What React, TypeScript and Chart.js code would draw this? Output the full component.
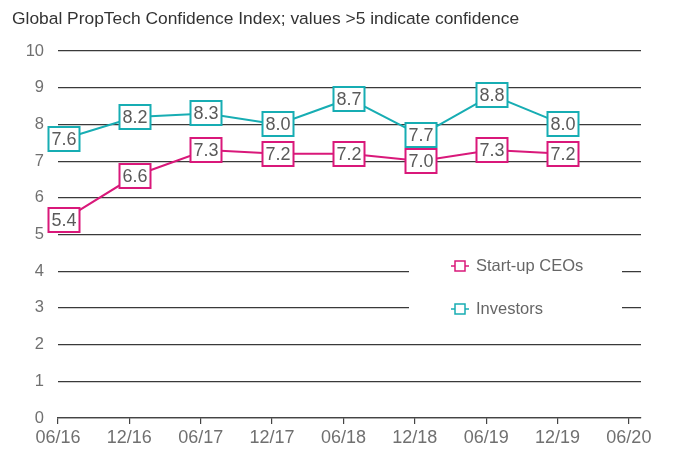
import React, { useEffect, useRef } from "react";
import { Chart, registerables } from "chart.js";

Chart.register(...registerables);

const TITLE = "Global PropTech Confidence Index; values >5 indicate confidence";
const tickLabels = ["06/16", "12/16", "06/17", "12/17", "06/18", "12/18", "06/19", "12/19", "06/20"];
// survey points sit slightly after each half-year tick
const surveyPositions = [0.08, 1.08, 2.08, 3.08, 4.08, 5.08, 6.08, 7.08];
const ceoValues = [5.4, 6.6, 7.3, 7.2, 7.2, 7.0, 7.3, 7.2];
const investorValues = [7.6, 8.2, 8.3, 8.0, 8.7, 7.7, 8.8, 8.0];
const seriesNames = ["Start-up CEOs", "Investors"];

const PINK = "#d9187a";
const TEAL = "#17adb3";
const FONT = "'Liberation Sans', Arial, sans-serif";

export default function App() {
  const ref = useRef<HTMLCanvasElement>(null);

  useEffect(() => {
    const canvas = ref.current!;
    const ceoData = ceoValues.map((v, i) => ({ x: surveyPositions[i], y: v }));
    const invData = investorValues.map((v, i) => ({ x: surveyPositions[i], y: v }));

    const labelPlugin = {
      id: "boxLabels",
      afterDatasetsDraw(chart: any) {
        const ctx = chart.ctx;
        ctx.save();
        chart.data.datasets.forEach((ds: any, di: number) => {
          const meta = chart.getDatasetMeta(di);
          meta.data.forEach((pt: any, i: number) => {
            const w = 31, h = 24;
            const x = Math.round(pt.x), y = Math.round(pt.y);
            ctx.fillStyle = "#fff";
            ctx.fillRect(x - w / 2, y - h / 2, w, h);
            ctx.strokeStyle = ds.borderColor;
            ctx.lineWidth = 2;
            ctx.strokeRect(x - w / 2, y - h / 2, w, h);
            ctx.fillStyle = "#5a5a5a";
            ctx.font = `18px ${FONT}`;
            ctx.textAlign = "center";
            ctx.textBaseline = "middle";
            ctx.fillText(ds.data[i].y.toFixed(1), x, y + 1);
          });
        });
        ctx.restore();
      },
      afterDraw(chart: any) {
        const ctx = chart.ctx;
        ctx.save();
        // title
        ctx.fillStyle = "#333";
        ctx.font = `17.4px ${FONT}`;
        ctx.textAlign = "left";
        ctx.textBaseline = "alphabetic";
        ctx.fillText(TITLE, 12, 24);
        // legend
        ctx.fillStyle = "#fff";
        ctx.fillRect(409, 248, 213, 80);
        const items = [
          { name: seriesNames[0], color: PINK, y: 266 },
          { name: seriesNames[1], color: TEAL, y: 309 },
        ];
        items.forEach((it) => {
          ctx.strokeStyle = it.color;
          ctx.lineWidth = 1.5;
          ctx.beginPath();
          ctx.moveTo(451, it.y);
          ctx.lineTo(469, it.y);
          ctx.stroke();
          ctx.fillStyle = "#fff";
          ctx.fillRect(455, it.y - 5, 10, 10);
          ctx.strokeRect(455, it.y - 5, 10, 10);
          ctx.fillStyle = "#666";
          ctx.font = `16.5px ${FONT}`;
          ctx.textAlign = "left";
          ctx.textBaseline = "middle";
          ctx.fillText(it.name, 476, it.y);
        });
        ctx.restore();
      },
    };

    const chart = new Chart(canvas, {
      type: "line",
      data: {
        datasets: [
          {
            label: seriesNames[0],
            data: ceoData,
            borderColor: PINK,
            backgroundColor: PINK,
            borderWidth: 2,
            pointRadius: 0,
            tension: 0,
          },
          {
            label: seriesNames[1],
            data: invData,
            borderColor: TEAL,
            backgroundColor: TEAL,
            borderWidth: 2,
            pointRadius: 0,
            tension: 0,
          },
        ],
      },
      options: {
        animation: false,
        responsive: false,
        layout: { padding: { top: 51, right: 36, left: 0, bottom: 0 } },
        plugins: {
          legend: { display: false },
          title: { display: false },
          tooltip: { enabled: false },
        },
        scales: {
          x: {
            type: "linear",
            min: 0,
            max: 8.17,
            afterBuildTicks: (scale: any) => {
              scale.ticks = tickLabels.map((_, i) => ({ value: i }));
            },
            afterFit: (scale: any) => {
              scale.height = 36;
            },
            ticks: {
              autoSkip: false,
              maxRotation: 0,
              padding: 3,
              color: "#707070",
              font: { family: FONT, size: 18 },
              callback: (v: any) => tickLabels[v] ?? "",
            },
            grid: {
              drawOnChartArea: false,
              drawTicks: true,
              tickLength: 6,
              color: "#444",
              lineWidth: 1.2,
            },
            border: { display: true, color: "#444", width: 1.2 },
          },
          y: {
            min: 0,
            max: 10,
            afterFit: (scale: any) => {
              scale.width = 58;
            },
            ticks: {
              stepSize: 1,
              padding: 14,
              color: "#707070",
              font: { family: FONT, size: 16.5 },
            },
            grid: {
              drawTicks: false,
              color: "#3a3a3a",
              lineWidth: 1.2,
            },
            border: { display: false },
          },
        },
      },
      plugins: [labelPlugin],
    });
    return () => chart.destroy();
  }, []);

  return (
    <div style={{ position: "absolute", left: 0, top: 0, width: 677, height: 454, background: "#fff" }}>
      <canvas ref={ref} width={677} height={454} style={{ width: 677, height: 454 }} />
    </div>
  );
}
